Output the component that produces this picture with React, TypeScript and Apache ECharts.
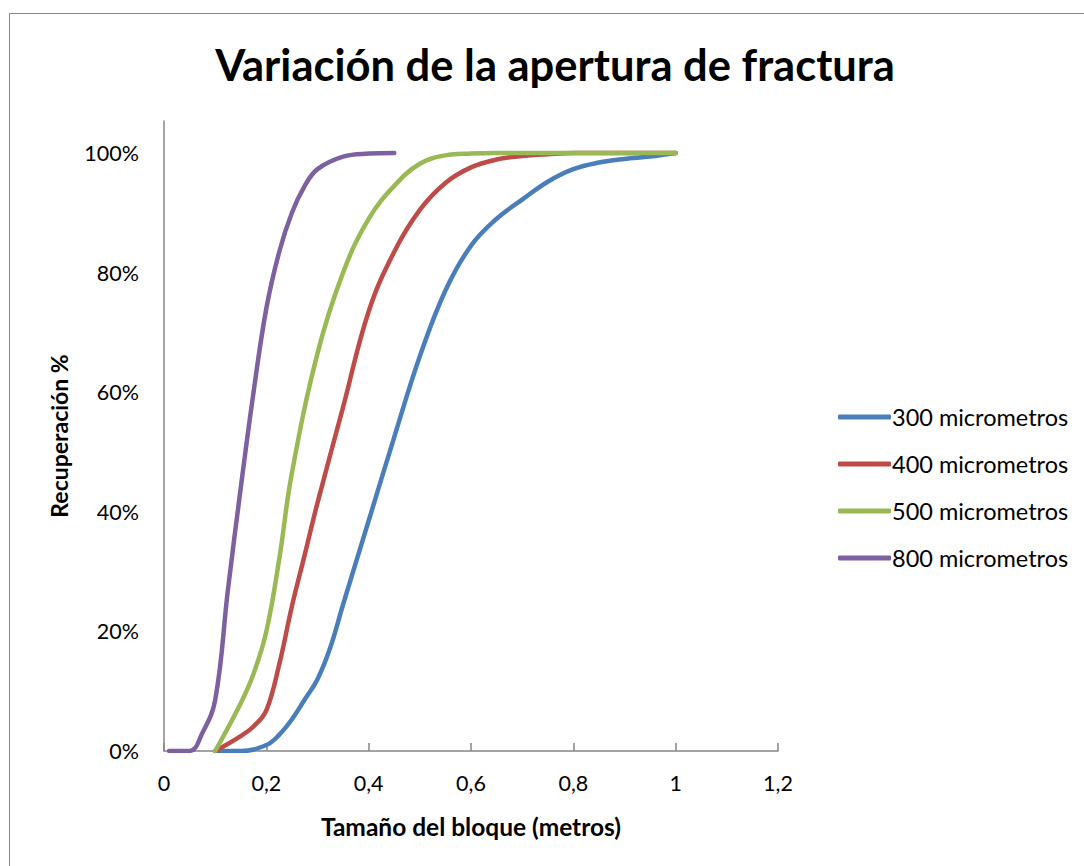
import React, { useEffect, useRef } from "react";
import * as echarts from "echarts";

const xValues300 = [0.1, 0.15, 0.2, 0.225, 0.25, 0.275, 0.3, 0.325, 0.35, 0.4, 0.45, 0.5, 0.55, 0.6, 0.65, 0.7, 0.75, 0.8, 0.85, 0.9, 0.95, 1.0];
const y300 = [0, 0, 1, 2.7, 5.3, 8.6, 12, 17.3, 24.5, 38.5, 52.5, 66, 77, 84.5, 89, 92.2, 95.2, 97.3, 98.4, 99, 99.4, 100];

const xValues400 = [0.1, 0.15, 0.175, 0.2, 0.225, 0.25, 0.275, 0.3, 0.35, 0.4, 0.45, 0.5, 0.55, 0.6, 0.65, 0.7, 0.75, 0.8, 0.85, 0.9, 0.95, 1.0];
const y400 = [0, 2.5, 4.1, 6.8, 14.4, 24.2, 32.8, 41.5, 57.5, 73.5, 83.5, 90.5, 95, 97.6, 98.9, 99.5, 99.8, 100, 100, 100, 100, 100];

const xValues500 = [0.1, 0.15, 0.175, 0.2, 0.225, 0.25, 0.3, 0.35, 0.4, 0.45, 0.5, 0.55, 0.6, 0.65, 0.7, 0.75, 0.8, 0.85, 0.9, 0.95, 1.0];
const y500 = [0, 8, 12.9, 20, 32, 46.5, 66.5, 80, 89, 94.5, 98.2, 99.6, 99.9, 100, 100, 100, 100, 100, 100, 100, 100];

const xValues800 = [0.01, 0.05, 0.075, 0.1, 0.125, 0.15, 0.175, 0.2, 0.225, 0.25, 0.275, 0.3, 0.35, 0.4, 0.45];
const y800 = [0, 0, 3, 8.5, 27, 44, 60, 74, 83.4, 90, 94.5, 97.3, 99.4, 99.9, 100];

const seriesNames = ["300 micrometros", "400 micrometros", "500 micrometros", "800 micrometros"];
const seriesColors = ["#4A7EBB", "#BE4B48", "#98B954", "#7D60A0"];
const xTickInterval = 0.2;
const yTickInterval = 20;

const FONT = "Lato, 'Open Sans', sans-serif";

function pairs(xs: number[], ys: number[]) {
  return xs.map((x, i) => [x, ys[i]]);
}

export default function App() {
  const ref = useRef<HTMLDivElement>(null);
  useEffect(() => {
    document.body.style.margin = "0";
    const chart = echarts.init(ref.current!, null, { renderer: "svg" });
    const datasets = [
      pairs(xValues300, y300),
      pairs(xValues400, y400),
      pairs(xValues500, y500),
      pairs(xValues800, y800),
    ];
    chart.setOption({
      animation: false,
      backgroundColor: "#ffffff",
      title: {
        text: "Variación de la apertura de fractura",
        left: 550,
        textAlign: "center",
        top: 37,
        textStyle: { fontFamily: FONT, fontWeight: "bold", fontSize: 43.5, color: "#000" },
      },
      graphic: [
        {
          type: "rect",
          shape: { x: 9.5, y: 13.5, width: 1200, height: 1000 },
          style: { fill: "none", stroke: "#868686", lineWidth: 1 },
          silent: true,
        },
      ],
      legend: {
        orient: "vertical",
        left: 833,
        top: 400,
        itemWidth: 53,
        itemHeight: 5,
        itemGap: 23,
        icon: "roundRect",
        textStyle: { fontFamily: FONT, fontSize: 23.5, color: "#000", lineHeight: 24, padding: [0, 0, 0, -4] },
        data: seriesNames,
      },
      grid: { left: 164, top: 121, right: 306, bottom: 115, containLabel: false },
      xAxis: {
        type: "value",
        min: 0,
        max: 1.2,
        interval: xTickInterval,
        name: "Tamaño del bloque (metros)",
        nameLocation: "middle",
        nameGap: 63,
        nameTextStyle: { fontFamily: FONT, fontWeight: "bold", fontSize: 24.5, color: "#000" },
        axisLine: { lineStyle: { color: "#868686", width: 1.5 } },
        axisTick: { inside: true, length: 8, lineStyle: { color: "#868686", width: 1.5 } },
        axisLabel: {
          margin: 21,
          fontFamily: FONT,
          fontSize: 21.5,
          color: "#000",
          formatter: (v: number) => String(+v.toFixed(1)).replace(".", ","),
        },
        splitLine: { show: false },
      },
      yAxis: {
        type: "value",
        min: 0,
        max: 105.35,
        interval: yTickInterval,
        name: "Recuperación %",
        nameLocation: "middle",
        nameGap: 94,
        nameTextStyle: { fontFamily: FONT, fontWeight: "bold", fontSize: 23, color: "#000" },
        axisLine: { show: true, lineStyle: { color: "#868686", width: 1.5 } },
        axisTick: { show: false },
        axisLabel: {
          margin: 25,
          fontFamily: FONT,
          fontSize: 21.5,
          color: "#000",
          formatter: (v: number) => (Math.abs(v % 20) < 1e-6 && v <= 100 ? `${Math.round(v)}%` : ""),
        },
        splitLine: { show: false },
      },
      series: datasets.map((d, i) => ({
        name: seriesNames[i],
        type: "line",
        data: d,
        smooth: 0.4,
        showSymbol: false,
        symbol: "none",
        color: seriesColors[i],
        lineStyle: { color: seriesColors[i], width: 4.5, cap: "round", join: "round" },
        z: 2 + i,
      })),
    });
    return () => chart.dispose();
  }, []);
  return <div ref={ref} style={{ width: 1084, height: 866 }} />;
}
